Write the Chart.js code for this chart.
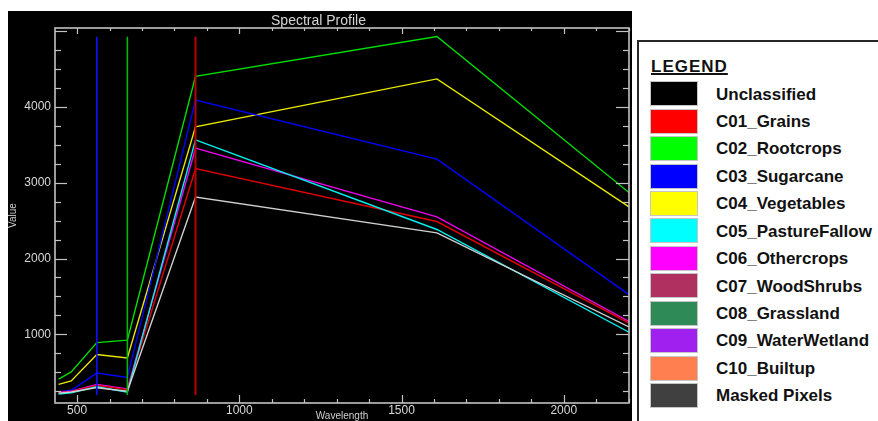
<!DOCTYPE html>
<html>
<head>
<meta charset="utf-8">
<script src="https://cdn.jsdelivr.net/npm/chart.js@4"></script>
<style>
  html, body { margin: 0; padding: 0; background: #ffffff; }
  body { width: 878px; height: 421px; position: relative; overflow: hidden; font-family: "Liberation Sans", Arial, sans-serif; }
  #plotBox { position: absolute; left: 8px; top: 11px; width: 624px; height: 410px; background: #000000; }
  #plotBox canvas { display: block; }
  #legendBox { position: absolute; left: 637px; top: 40px; width: 260px; height: 420px; border: 2px solid #262626; background: #ffffff; }
  .lg-title { position: absolute; left: 12px; font-weight: bold; font-size: 17px; line-height: 20px; letter-spacing: 1px; text-decoration: underline; text-decoration-thickness: 1.5px; color: #111; }
  .lg-sw { position: absolute; left: 12px; width: 46px; height: 23px; box-shadow: 0 0 0 1px rgba(150,150,150,0.55); }
  .lg-tx { position: absolute; left: 77px; font-weight: bold; font-size: 17px; line-height: 20px; color: #111; white-space: nowrap; }
</style>
</head>
<body>
<div id="plotBox"><canvas id="c" width="624" height="410"></canvas></div>
<div id="legendBox"></div>
<script>
// ---- data ----
const wavelengths = [443, 482, 561, 655, 865, 1609, 2201];
const unclassifiedProfile = [225, 240, 297, 250, 2811, 2338, 1098];
const grains      = [232, 245, 325, 272, 3185, 2488, 1148];
const rootcrops   = [410, 505, 892, 923, 4403, 4928, 2870];
const sugarcane   = [241, 263, 490, 431, 4088, 3310, 1525];
const vegetables  = [340, 386, 734, 689, 3736, 4369, 2681];
const pastureFallow = [213, 230, 310, 236, 3565, 2383, 1028];
const othercrops  = [236, 250, 340, 282, 3455, 2549, 1170];

const markerWavelengths = [561, 655, 865];
const markerRange = [200, 4925];

const xTickLabels = [500, 1000, 1500, 2000];
const yTickLabels = [1000, 2000, 3000, 4000];

const legendLabels = ["Unclassified", "C01_Grains", "C02_Rootcrops", "C03_Sugarcane", "C04_Vegetables",
  "C05_PastureFallow", "C06_Othercrops", "C07_WoodShrubs", "C08_Grassland", "C09_WaterWetland",
  "C10_Builtup", "Masked Pixels"];
const legendColors = ["#000000", "#ff0000", "#00ff00", "#0000ff", "#ffff00", "#00ffff", "#ff00ff",
  "#b03060", "#2e8b57", "#a020f0", "#ff7f50", "#404040"];

// ---- legend panel (HTML) ----
const lb = document.getElementById('legendBox');
const t = document.createElement('div');
t.className = 'lg-title'; t.textContent = 'LEGEND'; t.style.top = '15px';
lb.appendChild(t);
legendLabels.forEach((lab, i) => {
  const sw = document.createElement('div');
  sw.className = 'lg-sw';
  sw.style.top = (40.3 + 27.43 * i) + 'px';
  sw.style.background = legendColors[i];
  lb.appendChild(sw);
  const tx = document.createElement('div');
  tx.className = 'lg-tx';
  tx.style.top = (42.6 + 27.43 * i) + 'px';
  tx.textContent = lab;
  lb.appendChild(tx);
});

// ---- chart ----
const toXY = arr => arr.map((v, i) => ({ x: wavelengths[i], y: v }));
const lineDs = (label, arr, color) => ({
  label, data: toXY(arr), borderColor: color, borderWidth: 1.4,
  pointRadius: 0, fill: false, tension: 0, order: 1
});
const markerColors = ['#1010ff', '#00b800', '#b80000'];
const markerWidths = [1.6, 1.6, 2];
const markerDs = markerWavelengths.map((w, i) => ({
  label: 'band ' + w,
  data: markerRange.map(v => ({ x: w, y: v })),
  borderColor: markerColors[i], borderWidth: markerWidths[i],
  pointRadius: 0, fill: false, order: 0
}));

const frameTicks = {
  id: 'frameTicks',
  afterDatasetsDraw(chart) {
    const { ctx, chartArea: a, scales: { x, y } } = chart;
    ctx.save();
    ctx.strokeStyle = '#c2c2c2';
    ctx.lineWidth = 1.6;
    ctx.strokeRect(a.left, a.top, a.right - a.left, a.bottom - a.top);
    ctx.lineWidth = 1.2;
    const seg = (x1, y1, x2, y2) => { ctx.beginPath(); ctx.moveTo(x1, y1); ctx.lineTo(x2, y2); ctx.stroke(); };
    for (let v = Math.ceil(x.min / 100) * 100; v <= x.max; v += 100) {
      const px = Math.round(x.getPixelForValue(v)) + 0.5;
      const major = v % 500 === 0;
      seg(px, a.bottom, px, a.bottom - (major ? 8 : 4));
      seg(px, a.top, px, a.top + (major ? 6 : 3));
    }
    for (let v = Math.ceil(y.min / 250) * 250; v <= y.max; v += 250) {
      const py = Math.round(y.getPixelForValue(v)) + 0.5;
      const major = v % 1000 === 0;
      seg(a.left, py, a.left + (major ? 12 : 6), py);
      seg(a.right, py, a.right - (major ? 13 : 6), py);
    }
    ctx.restore();
  }
};

const tickFont = { family: 'Liberation Sans', size: 12 };
new Chart(document.getElementById('c'), {
  type: 'line',
  data: {
    datasets: [
      ...markerDs,
      lineDs('Unclassified', unclassifiedProfile, '#d0d0d0'),
      lineDs('C05_PastureFallow', pastureFallow, '#00f0f0'),
      lineDs('C01_Grains', grains, '#e00000'),
      lineDs('C06_Othercrops', othercrops, '#f000f0'),
      lineDs('C03_Sugarcane', sugarcane, '#0000ff'),
      lineDs('C04_Vegetables', vegetables, '#e8e800'),
      lineDs('C02_Rootcrops', rootcrops, '#00e000')
    ]
  },
  options: {
    responsive: false,
    animation: false,
    events: [],
    layout: { padding: { left: 0, right: 3, top: 0, bottom: 0 } },
    plugins: {
      legend: { display: false },
      tooltip: { enabled: false },
      title: {
        display: true, text: 'Spectral Profile', color: '#d4d4d4',
        font: { family: 'Liberation Sans', size: 14, lineHeight: 1.0, weight: 'normal' },
        padding: { top: 3, bottom: 0 }
      }
    },
    scales: {
      x: {
        type: 'linear', min: 432, max: 2201,
        grid: { display: false, drawTicks: false, tickLength: 0 },
        border: { display: false },
        afterBuildTicks: s => { s.ticks = xTickLabels.map(v => ({ value: v })); },
        afterFit: s => { s.height = 18; },
        ticks: { color: '#d8d8d8', font: tickFont, padding: 0, maxRotation: 0, autoSkip: false, callback: v => String(v) },
        title: { display: true, text: 'Wavelength', color: '#d0d0d0', font: { family: 'Liberation Sans', size: 10, lineHeight: 1.0 }, padding: { top: 0, bottom: 0 } }
      },
      y: {
        type: 'linear', min: 95, max: 5040,
        grid: { display: false, drawTicks: false, tickLength: 0 },
        border: { display: false },
        afterBuildTicks: s => { s.ticks = yTickLabels.map(v => ({ value: v })); },
        afterFit: s => { s.width = 47; },
        ticks: { color: '#d8d8d8', font: tickFont, padding: 4, autoSkip: false, callback: v => String(v) },
        title: { display: true, text: 'Value', color: '#d0d0d0', font: { family: 'Liberation Sans', size: 10, lineHeight: 1.0 }, padding: { top: 0, bottom: 0 } }
      }
    }
  },
  plugins: [frameTicks]
});
</script>
</body>
</html>
